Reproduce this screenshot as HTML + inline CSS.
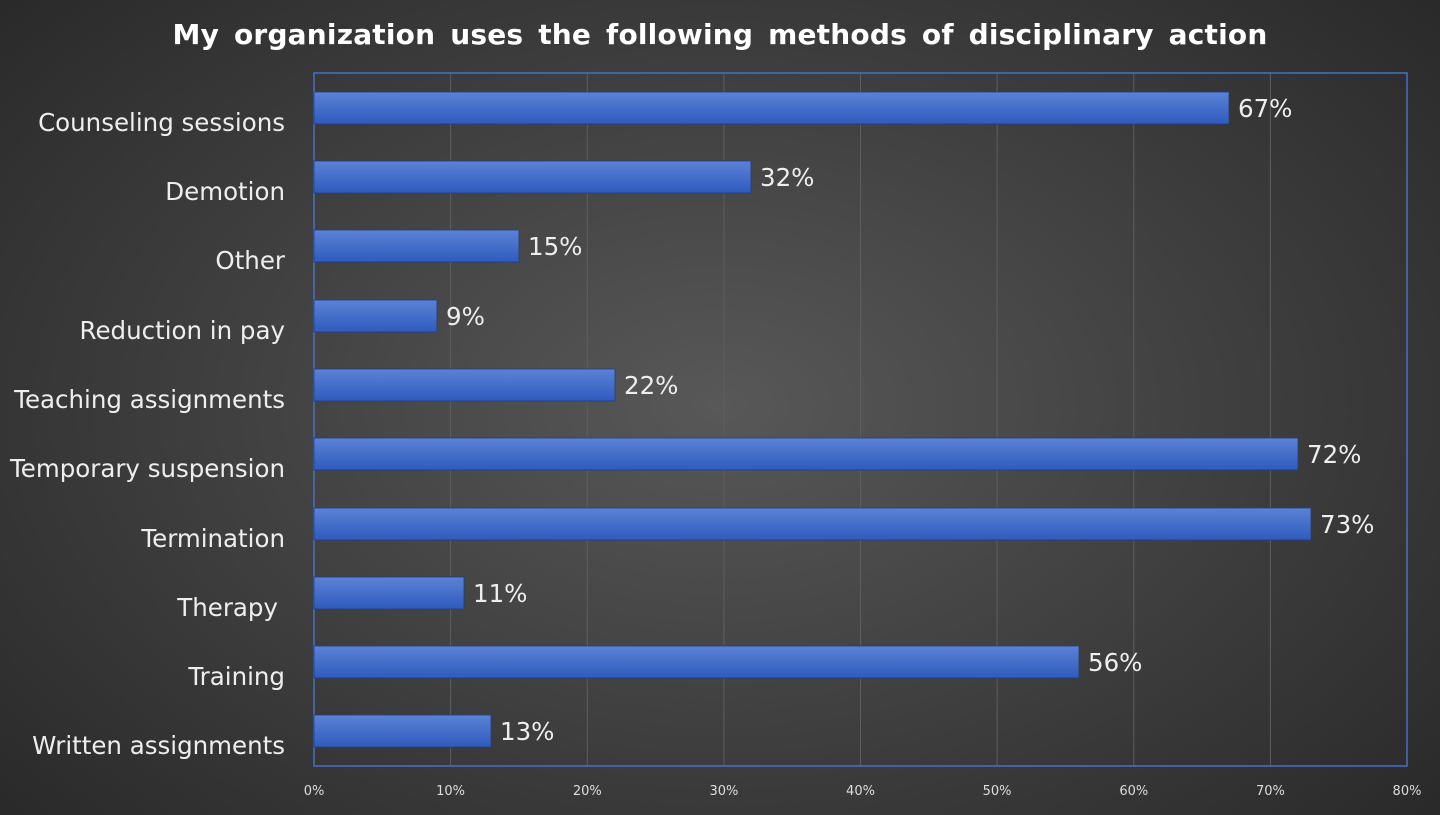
<!DOCTYPE html>
<html><head><style>
body{margin:0;width:1440px;height:810px;overflow:hidden;background:radial-gradient(ellipse 75% 85% at 50% 50%,#585858 0%,#3b3b3b 55%,#242424 100%);font-family:"Liberation Sans","DejaVu Sans",sans-serif;}
</style></head><body>
<svg width="1440" height="810" xmlns="http://www.w3.org/2000/svg">
<defs><linearGradient id="g" x1="0" y1="0" x2="0" y2="1"><stop offset="0" stop-color="#5b82d6"/><stop offset="1" stop-color="#2f5bbd"/></linearGradient></defs>
<text x="720" y="44" text-anchor="middle" fill="#fff" font-size="28" font-weight="bold" font-family="DejaVu Sans, sans-serif" letter-spacing="0.2" word-spacing="5">My organization uses the following methods of disciplinary action</text>
<g stroke="#5e5e5e" stroke-width="1">
<line x1="450.6" y1="73" x2="450.6" y2="766"/><line x1="587.3" y1="73" x2="587.3" y2="766"/><line x1="723.9" y1="73" x2="723.9" y2="766"/><line x1="860.5" y1="73" x2="860.5" y2="766"/><line x1="997.1" y1="73" x2="997.1" y2="766"/><line x1="1133.8" y1="73" x2="1133.8" y2="766"/><line x1="1270.4" y1="73" x2="1270.4" y2="766"/>
</g>
<rect x="314" y="73" width="1093" height="693" fill="none" stroke="#4a6fc0" stroke-width="1.5"/>
<g font-size="24.5" fill="#eee" font-family="DejaVu Sans, sans-serif">
<g text-anchor="end">
<text x="285" y="131">Counseling sessions</text>
<text x="285" y="200">Demotion</text>
<text x="285" y="269">Other</text>
<text x="285" y="339">Reduction in pay</text>
<text x="285" y="408">Teaching assignments</text>
<text x="285" y="477">Temporary suspension</text>
<text x="285" y="547">Termination</text>
<text x="278" y="616">Therapy</text>
<text x="285" y="685">Training</text>
<text x="285" y="754">Written assignments</text>
</g>
<g fill="url(#g)" stroke="#1f3f88" stroke-width="0.8">
<rect x="314" y="92" width="915" height="32"/>
<rect x="314" y="161" width="437" height="32"/>
<rect x="314" y="230" width="205" height="32"/>
<rect x="314" y="300" width="123" height="32"/>
<rect x="314" y="369" width="301" height="32"/>
<rect x="314" y="438" width="984" height="32"/>
<rect x="314" y="508" width="997" height="32"/>
<rect x="314" y="577" width="150" height="32"/>
<rect x="314" y="646" width="765" height="32"/>
<rect x="314" y="715" width="177" height="32"/>
</g>
<text x="1238" y="117">67%</text>
<text x="760" y="186">32%</text>
<text x="528" y="255">15%</text>
<text x="446" y="325">9%</text>
<text x="624" y="394">22%</text>
<text x="1307" y="463">72%</text>
<text x="1320" y="533">73%</text>
<text x="473" y="602">11%</text>
<text x="1088" y="671">56%</text>
<text x="500" y="740">13%</text>
</g>
<g font-size="13" fill="#ddd" text-anchor="middle" font-family="DejaVu Sans, sans-serif">
<text x="314" y="795">0%</text><text x="450.6" y="795">10%</text><text x="587.3" y="795">20%</text><text x="723.9" y="795">30%</text><text x="860.5" y="795">40%</text><text x="997.1" y="795">50%</text><text x="1133.8" y="795">60%</text><text x="1270.4" y="795">70%</text><text x="1407" y="795">80%</text>
</g>
</svg>
</body></html>
